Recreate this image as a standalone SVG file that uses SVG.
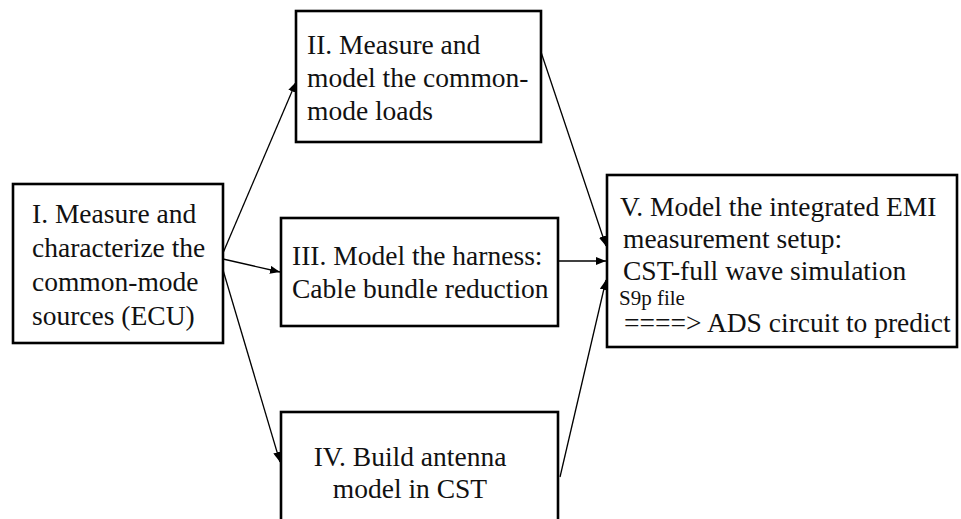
<svg xmlns="http://www.w3.org/2000/svg" width="961" height="519" viewBox="0 0 961 519">
<style>
.box{fill:#fff;stroke:#000;stroke-width:2.6}
text{font-family:'Liberation Serif','Times New Roman','DejaVu Serif',serif;fill:#111}
.t{font-size:27.5px}
.s{font-size:21px}
.c{fill:none;stroke:#000;stroke-width:1.3;marker-end:url(#ah)}
</style>
<defs>
<marker id="ah" markerUnits="userSpaceOnUse" markerWidth="10" markerHeight="8" refX="10" refY="4" orient="auto">
<path d="M0,0 L10,4 L0,8 z" fill="#000"/>
</marker>
</defs>
<rect width="961" height="519" fill="#fff"/>
<g id="connectors">
<line class="c" x1="223" y1="253" x2="296" y2="82"/>
<line class="c" x1="223" y1="259" x2="280" y2="272"/>
<line class="c" x1="223" y1="270" x2="280" y2="462"/>
<line class="c" x1="541" y1="52" x2="606" y2="246"/>
<line class="c" x1="558" y1="261" x2="606" y2="261"/>
<line class="c" x1="560" y1="477" x2="606" y2="280"/>
</g>
<g font-family="Liberation Serif, serif">
<g id="node1">
<rect class="box" x="13" y="184" width="210" height="159"/>
<text class="t" x="32" y="223">I. Measure and</text>
<text class="t" x="32" y="257">characterize the</text>
<text class="t" x="32" y="291">common-mode</text>
<text class="t" x="32" y="325">sources (ECU)</text>
</g>
<g id="node2">
<rect class="box" x="296" y="11" width="245" height="131"/>
<text class="t" x="307" y="54">II. Measure and</text>
<text class="t" x="307" y="87">model the common-</text>
<text class="t" x="307" y="120">mode loads</text>
</g>
<g id="node3">
<rect class="box" x="281" y="218" width="277" height="108"/>
<text class="t" x="292" y="265">III. Model the harness:</text>
<text class="t" x="292" y="298">Cable bundle reduction</text>
</g>
<g id="node4">
<rect class="box" x="281" y="412" width="277" height="130"/>
<text class="t" x="410" y="466" text-anchor="middle">IV. Build antenna</text>
<text class="t" x="410" y="498" text-anchor="middle">model in CST</text>
</g>
<g id="node5">
<rect class="box" x="607" y="175" width="350" height="172"/>
<text class="t" x="620" y="216">V. Model the integrated EMI</text>
<text class="t" x="623" y="248">measurement setup:</text>
<text class="t" x="623" y="280">CST-full wave simulation</text>
<text class="s" x="619" y="305">S9p file</text>
<text class="t" x="624" y="332">====&gt; ADS circuit to predict</text>
</g>
</g>
</svg>
